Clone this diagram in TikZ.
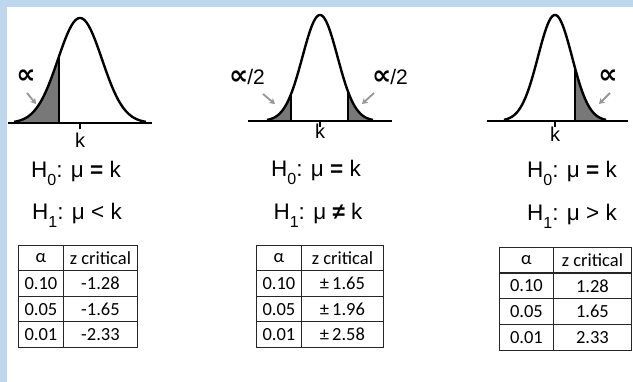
\documentclass[tikz,border=0pt]{standalone}
\usepackage{fontspec}
\setmainfont{Liberation Sans}
\newfontfamily\calib{Carlito}
\newfontfamily\dejavu{DejaVu Sans}
\usetikzlibrary{arrows.meta}
\definecolor{bordblue}{RGB}{189,215,238}
\definecolor{tailgray}{RGB}{120,120,120}
\definecolor{arrgray}{RGB}{150,150,150}
\newcommand\sbs[1]{\raisebox{-0.32em}{\fontsize{16}{16}\selectfont #1}}
\newcommand\alp{{\dejavu\bfseries\fontsize{27}{27}\selectfont ∝}}
\begin{document}
\begin{tikzpicture}[x=1pt,y=-1pt,
  curve/.style={line width=2.4pt, line join=round},
  baseln/.style={line width=2.3pt},
  tailfill/.style={fill=tailgray},
  tickln/.style={line width=1.2pt},
  klabel/.style={font=\fontsize{20}{20}\selectfont, inner sep=0, anchor=base},
  htext/.style={font=\fontsize{22.5}{22.5}\selectfont, inner sep=0, anchor=base},
  alabel/.style={font=\fontsize{21}{21}\selectfont, inner sep=0, anchor=base},
  garrow/.style={draw=arrgray, line width=1.8pt, -{Stealth[length=5.5pt,width=6.5pt]}},
  cell/.style={draw=black!85, line width=0.9pt, inner sep=0, anchor=north west,
    font=\calib\fontsize{18.5}{18.5}\selectfont, minimum height=25.5pt},
]
\useasboundingbox (0,0) rectangle (633,382);
\fill[bordblue] (0,0) rectangle (633,382);
\fill[white] (7,7) rectangle (633,382);

% ---------- left panel ----------
\fill[tailfill] plot[domain=14:59,samples=50,smooth] (\x,{123-105*exp(-((\x-80)^2)/968)}) -- (59,123) -- cycle;
\draw[curve] plot[domain=14:146,samples=120,smooth] (\x,{123-105*exp(-((\x-80)^2)/968)});
\draw[curve] (59,123) -- (59,{123-105*exp(-(21^2)/968)});
\draw[baseln] (8,123) -- (152,123);
\draw[tickln] (80,123) -- (80,129);
\node[klabel] (ka) at (80,148) {k};
\node[alabel] (aa) at (26,84) {\alp};
\coordinate (aas) at (27,93);
\coordinate (aae) at (36,104);
\draw[garrow] (aas) -- (aae);
\node[htext] (h0a) at (76,178) {H\sbs{0}: μ {\bfseries =} k};
\node[htext] (h1a) at (77,220) {H\sbs{1}: μ < k};

% ---------- middle panel ----------
\fill[tailfill] plot[domain=267:291,samples=40,smooth] (\x,{121-106*exp(-((\x-320)^2)/612.5)}) -- (291,121) -- cycle;
\fill[tailfill] plot[domain=348:373,samples=40,smooth] (\x,{121-106*exp(-((\x-320)^2)/612.5)}) -- (373,121) -- (348,121) -- cycle;
\draw[curve] plot[domain=267:373,samples=120,smooth] (\x,{121-106*exp(-((\x-320)^2)/612.5)});
\draw[curve] (291,121) -- (291,{121-106*exp(-(29^2)/612.5)});
\draw[curve] (348,121) -- (348,{121-106*exp(-(28^2)/612.5)});
\draw[baseln] (248,121) -- (392,121);
\draw[tickln] (320,121) -- (320,127);
\node[klabel] (kb) at (320,139) {k};
\node[alabel] (ab1) at (247,85) {\alp\kern-1pt/2};
\node[alabel] (ab2) at (390,85) {\alp\kern-1pt/2};
\coordinate (ab1s) at (263,94);
\coordinate (ab1e) at (275,104);
\draw[garrow] (ab1s) -- (ab1e);
\coordinate (ab2s) at (374,93);
\coordinate (ab2e) at (362,104);
\draw[garrow] (ab2s) -- (ab2e);
\node[htext] (h0b) at (316,177) {H\sbs{0}: μ {\bfseries =} k};
\node[htext] (h1b) at (318,220) {H\sbs{1}: μ {\bfseries ≠} k};

% ---------- right panel ----------
\fill[tailfill] plot[domain=575:607,samples=40,smooth] (\x,{121-106*exp(-((\x-555)^2)/578)}) -- (607,121) -- (575,121) -- cycle;
\draw[curve] plot[domain=504:606,samples=120,smooth] (\x,{121-106*exp(-((\x-555)^2)/578)});
\draw[curve] (575,121) -- (575,{121-106*exp(-(20^2)/578)});
\draw[baseln] (487,121) -- (628,121);
\draw[tickln] (555,121) -- (555,127);
\node[klabel] (kc) at (555,142) {k};
\node[alabel] (ac) at (608,84) {\alp};
\coordinate (acs) at (610,93);
\coordinate (ace) at (599,104);
\draw[garrow] (acs) -- (ace);
\node[htext] (h0c) at (572,178) {H\sbs{0}: μ {\bfseries =} k};
\node[htext] (h1c) at (572,221) {H\sbs{1}: μ > k};

% ---------- tables ----------
\foreach \a/\z [count=\r from 0] in {α/z critical,0.10/-1.28,0.05/-1.65,0.01/-2.33} {
  \node[cell, minimum width=45pt] (ta\r a) at (18,{245+25.5*\r}) {\a};
  \node[cell, minimum width=74pt] (ta\r b) at (63,{245+25.5*\r}) {\z};
}
\foreach \a/\z [count=\r from 0] in {α/z critical,0.10/±\,1.65,0.05/±\,1.96,0.01/±\,2.58} {
  \node[cell, minimum width=45pt] (tb\r a) at (256,{245+25.5*\r}) {\a};
  \node[cell, minimum width=82pt] (tb\r b) at (301,{245+25.5*\r}) {\z};
}
\foreach \a/\z [count=\r from 0] in {α/z critical,0.10/1.28,0.05/1.65,0.01/2.33} {
  \node[cell, minimum width=54pt] (tc\r a) at (499,{247+25.75*\r}) {\a};
  \node[cell, minimum width=78pt] (tc\r b) at (553,{247+25.75*\r}) {\z};
}
\end{tikzpicture}
\end{document}
